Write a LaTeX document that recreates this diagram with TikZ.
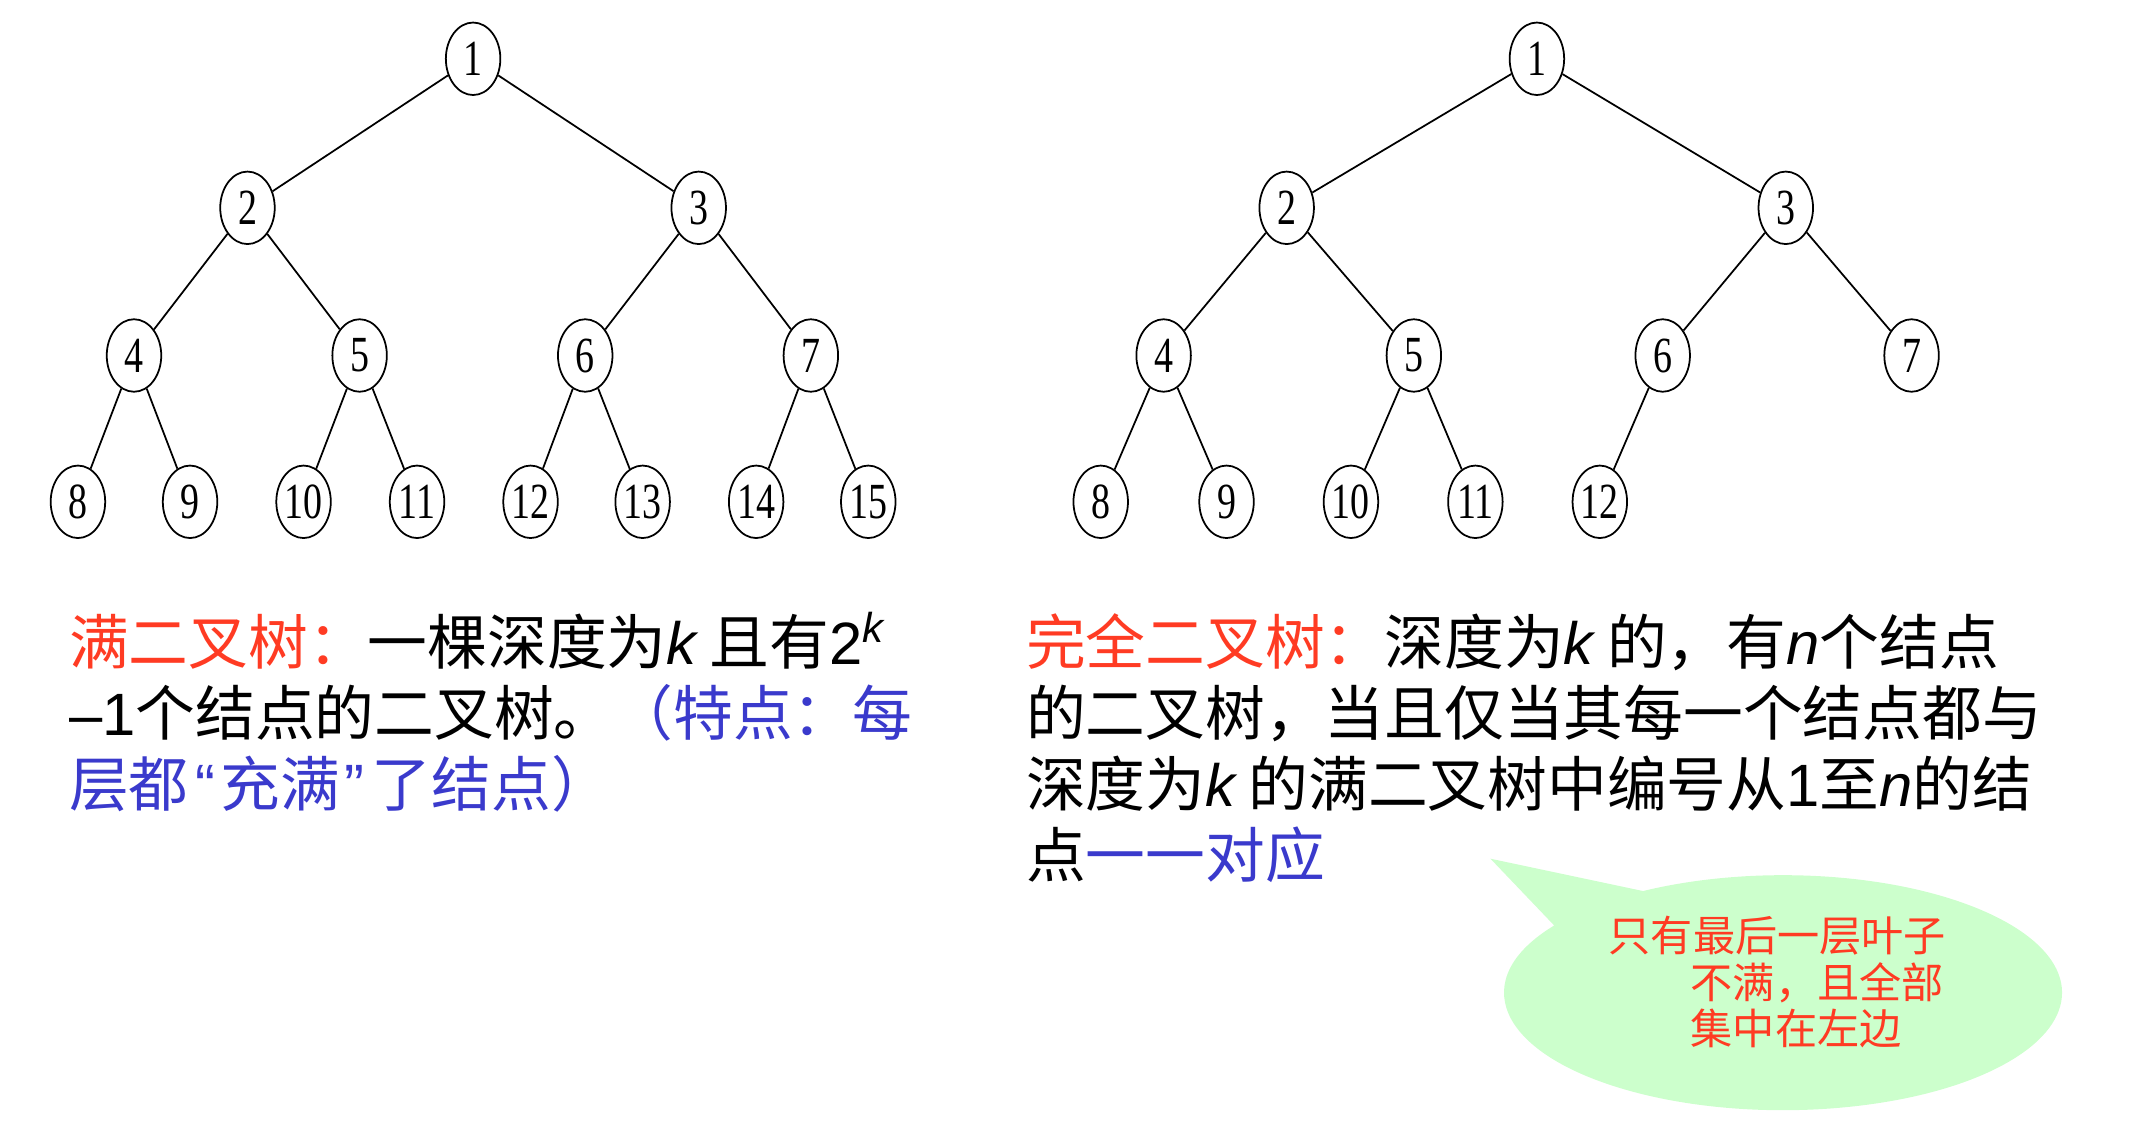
\documentclass[tikz,border=0pt]{standalone}
\usepackage{fontspec}
\usepackage{tikz}
\usetikzlibrary{shapes, shapes.callouts, positioning}

\newfontfamily\cjk{Noto Sans CJK SC}
\newfontfamily\lat{Liberation Sans}
\newfontfamily\digits[FakeStretch=0.75]{Liberation Serif}

\definecolor{hlred}{RGB}{255,59,35}
\definecolor{hlblue}{RGB}{58,58,204}
\definecolor{bubblegreen}{RGB}{204,255,204}

\newcommand{\kvar}{{\lat\itshape k}}
\newcommand{\nvar}{{\lat\itshape n}}

\begin{document}
\begin{tikzpicture}[
    x=0.13673mm, y=-0.13673mm,   % one unit = one pixel of the sketch
    tree_node/.style={ellipse, draw, line width=0.5pt, minimum width=5.45mm,
        minimum height=7.25mm, inner sep=0pt, font=\digits\fontsize{14.4}{14.4}\selectfont},
    tree_edge/.style={line width=0.5pt},
    text_line/.style={anchor=base west, inner sep=0pt, font=\cjk\fontsize{17}{20}\selectfont},
    note_line/.style={anchor=base west, inner sep=0pt, text=hlred, font=\cjk\fontsize{12}{14}\selectfont},
    bubble/.style={ellipse callout, fill=bubblegreen, minimum width=55.8mm,
        minimum height=23.5mm, inner sep=0pt, callout pointer arc=25}
    ]
    \useasboundingbox (0,0) rectangle (1568,822);

    % Full binary tree
    \node[tree_node] (f1) at (346,43) {1};
    \node[tree_node] (f2) at (181,152) {2};
    \node[tree_node] (f3) at (511,152) {3};
    \node[tree_node] (f4) at (98,260) {4};
    \node[tree_node] (f5) at (263,260) {5};
    \node[tree_node] (f6) at (428,260) {6};
    \node[tree_node] (f7) at (593,260) {7};
    \node[tree_node] (f8) at (57,367) {8};
    \node[tree_node] (f9) at (139,367) {9};
    \node[tree_node] (f10) at (222,367) {10};
    \node[tree_node] (f11) at (305,367) {11};
    \node[tree_node] (f12) at (388,367) {12};
    \node[tree_node] (f13) at (470,367) {13};
    \node[tree_node] (f14) at (553,367) {14};
    \node[tree_node] (f15) at (635,367) {15};

    \draw[tree_edge] (f1) -- (f2);
    \draw[tree_edge] (f1) -- (f3);
    \draw[tree_edge] (f2) -- (f4);
    \draw[tree_edge] (f2) -- (f5);
    \draw[tree_edge] (f3) -- (f6);
    \draw[tree_edge] (f3) -- (f7);
    \draw[tree_edge] (f4) -- (f8);
    \draw[tree_edge] (f4) -- (f9);
    \draw[tree_edge] (f5) -- (f10);
    \draw[tree_edge] (f5) -- (f11);
    \draw[tree_edge] (f6) -- (f12);
    \draw[tree_edge] (f6) -- (f13);
    \draw[tree_edge] (f7) -- (f14);
    \draw[tree_edge] (f7) -- (f15);

    % Complete binary tree
    \node[tree_node] (c1) at (1124,43) {1};
    \node[tree_node] (c2) at (941,152) {2};
    \node[tree_node] (c3) at (1306,152) {3};
    \node[tree_node] (c4) at (851,260) {4};
    \node[tree_node] (c5) at (1034,260) {5};
    \node[tree_node] (c6) at (1216,260) {6};
    \node[tree_node] (c7) at (1398,260) {7};
    \node[tree_node] (c8) at (805,367) {8};
    \node[tree_node] (c9) at (897,367) {9};
    \node[tree_node] (c10) at (988,367) {10};
    \node[tree_node] (c11) at (1079,367) {11};
    \node[tree_node] (c12) at (1170,367) {12};

    \draw[tree_edge] (c1) -- (c2);
    \draw[tree_edge] (c1) -- (c3);
    \draw[tree_edge] (c2) -- (c4);
    \draw[tree_edge] (c2) -- (c5);
    \draw[tree_edge] (c3) -- (c6);
    \draw[tree_edge] (c3) -- (c7);
    \draw[tree_edge] (c4) -- (c8);
    \draw[tree_edge] (c4) -- (c9);
    \draw[tree_edge] (c5) -- (c10);
    \draw[tree_edge] (c5) -- (c11);
    \draw[tree_edge] (c6) -- (c12);

    % Definitions
    \node[text_line] (full_l1) at (50,486) {\textcolor{hlred}{满二叉树：}一棵深度为\kvar\ 且有{\lat 2\textsuperscript{\itshape k}}};
    \node[text_line] (full_l2) at (50,538) {{\lat –1}个结点的二叉树。\textcolor{hlblue}{（特点：每}};
    \node[text_line] (full_l3) at (50,590) {\textcolor{hlblue}{层都\hspace{0.12em}{\lat “\hspace{0.08em}}充满{\lat \hspace{0.08em}”}\hspace{0.12em}了结点）}};

    \node[text_line] (comp_l1) at (750,486) {\textcolor{hlred}{完全二叉树：}深度为\kvar\ 的，有\nvar 个结点};
    \node[text_line] (comp_l2) at (750,538) {的二叉树，当且仅当其每一个结点都与};
    \node[text_line] (comp_l3) at (750,590) {深度为\kvar\ 的满二叉树中编号从{\lat 1}至\nvar 的结};
    \node[text_line] (comp_l4) at (750,642) {点\textcolor{hlblue}{一一对应}};

    % Note bubble
    \coordinate (tip) at (1090,628);
    \node[bubble, callout absolute pointer={(tip)}] (note) at (1304,726) {};
    \node[note_line] (note_l1) at (1176,696) {只有最后一层叶子};
    \node[note_line] (note_l2) at (1236,730) {不满，且全部};
    \node[note_line] (note_l3) at (1236,764) {集中在左边};
\end{tikzpicture}
\end{document}
